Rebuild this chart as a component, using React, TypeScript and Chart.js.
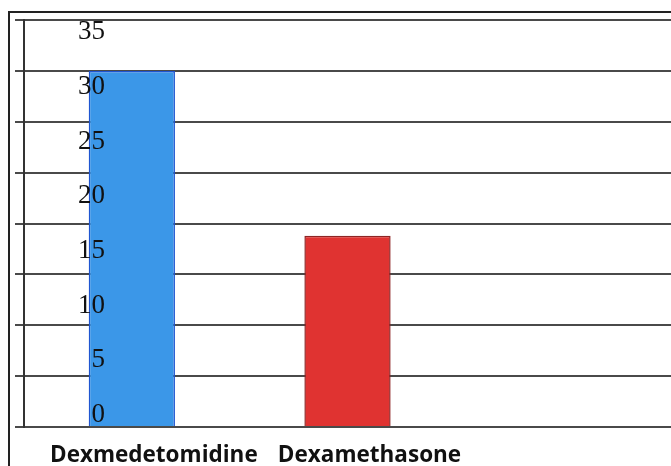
import React, { useEffect, useRef } from "react";
import { Chart, registerables } from "chart.js";

Chart.register(...registerables);

const categories = ["Dexmedetomidine", "Dexamethasone", ""];
const values = [30, 13.8, null];
const barColors = ["#3b97e8", "#e03331"];
const barBorders = ["#1f55d0", "#8e2424"];

const gridMin = -5;
const gridMax = 35;
const gridStep = 5;

const tickValues = [0, 5, 10, 15, 20, 25, 30, 35];
const tickLabels = ["0", "5", "10", "15", "20", "25", "30", "35"];
const labelAxisMin = -1.1;
const labelAxisMax = 36.1;

const tickLabelPlugin = {
  id: "serifTickLabels",
  afterDatasetsDraw(chart: any) {
    const s = chart.scales.y2;
    const ctx = chart.ctx;
    ctx.save();
    ctx.font = '27px "Liberation Serif"';
    ctx.fillStyle = "#111";
    ctx.textAlign = "right";
    ctx.textBaseline = "middle";
    tickValues.forEach((v, i) => {
      ctx.fillText(tickLabels[i], chart.chartArea.left + 81, s.getPixelForValue(v));
    });
    ctx.restore();
  },
};

export default function App() {
  const ref = useRef<HTMLCanvasElement>(null);
  useEffect(() => {
    const chart = new Chart(ref.current!, {
      type: "bar",
      data: {
        labels: categories,
        datasets: [
          {
            data: values as any,
            backgroundColor: barColors,
            borderColor: barBorders,
            borderWidth: 1.5,
            base: gridMin,
            barPercentage: 0.4,
            categoryPercentage: 1,
            yAxisID: "y",
          } as any,
        ],
      },
      options: {
        responsive: false,
        animation: false,
        layout: { padding: { left: 5, top: 7, right: 0, bottom: 0 } },
        plugins: { legend: { display: false }, tooltip: { enabled: false } },
        scales: {
          x: {
            grid: { display: false, drawTicks: false },
            border: { display: false },
            ticks: {
              color: "#111",
              padding: 15,
              labelOffset: 22,
              font: { family: '"Open Sans"', size: 22.5, weight: "bold" },
              maxRotation: 0,
              autoSkip: false,
            },
            afterFit: (scale: any) => {
              scale.height = 39;
            },
          },
          y: {
            min: gridMin,
            max: gridMax,
            ticks: { stepSize: gridStep, display: false },
            grid: { color: "#4a4a4a", lineWidth: 2, tickLength: 9, drawTicks: true },
            border: { display: true, color: "#333", width: 2 },
          },
          y2: {
            type: "linear",
            display: false,
            min: labelAxisMin,
            max: labelAxisMax,
          },
        },
      },
      plugins: [tickLabelPlugin],
    });
    return () => chart.destroy();
  }, []);
  return (
    <div
      style={{
        position: "absolute",
        left: 8,
        top: 11,
        width: 663,
        height: 455,
        borderLeft: "2px solid #222",
        borderTop: "2px solid #222",
        boxSizing: "border-box",
        background: "#fff",
      }}
    >
      <canvas ref={ref} width={661} height={453} style={{ display: "block" }} />
    </div>
  );
}
